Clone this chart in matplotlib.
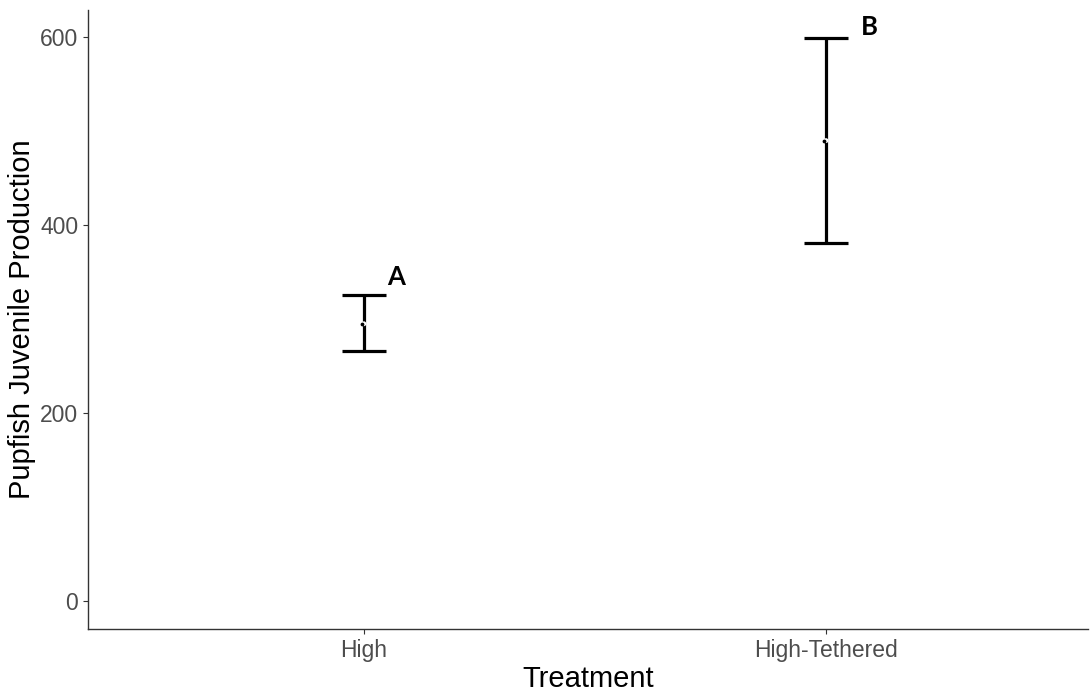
import matplotlib
matplotlib.use("Agg")
import matplotlib.pyplot as plt

treatments = ["High", "High-Tethered"]
means = [295, 490]
lower = [266, 381]
upper = [326, 599]
letters = ["A", "B"]
letter_x = [1.07, 2.093]
letter_y = [345, 611]

plt.rcParams['font.family'] = ['Liberation Sans', 'DejaVu Sans']

fig = plt.figure(figsize=(10.91, 6.92), dpi=100)
ax = fig.add_axes([0.0807, 0.091, 0.9166, 0.8945])

x = [1, 2]
err = [[m - l for m, l in zip(means, lower)], [u - m for m, u in zip(means, upper)]]
ax.errorbar(x, means, yerr=err, fmt='none', ecolor='black', elinewidth=2.3,
            capsize=16, capthick=2.3, zorder=2)
ax.scatter(x, means, s=12, color='white', edgecolors='none', zorder=3)
ax.scatter([xi - 0.004 for xi in x], means, s=3, color='black', zorder=4)

for lx, lab, ly in zip(letter_x, letters, letter_y):
    ax.text(lx, ly, lab, fontsize=18.5, family=['Lato', 'DejaVu Sans'],
            fontweight='bold', ha='center', va='center', color='black')

ax.set_xlim(0.403, 2.567)
ax.set_ylim(-30, 629)
ax.set_xticks(x)
ax.set_xticklabels(treatments)
ax.set_yticks([0, 200, 400, 600])
ax.tick_params(axis='both', labelsize=16.5, colors='#4D4D4D', length=3.5, width=0.8)
ax.tick_params(axis='both', color='#333333')
for side in ['top', 'right']:
    ax.spines[side].set_visible(False)
for side in ['left', 'bottom']:
    ax.spines[side].set_color('#333333')
    ax.spines[side].set_linewidth(1.0)

ax.set_xlabel("Treatment", fontsize=21, labelpad=2)
ax.set_ylabel("Pupfish Juvenile Production", fontsize=21, labelpad=3)

fig.savefig("out.png", dpi=100)
